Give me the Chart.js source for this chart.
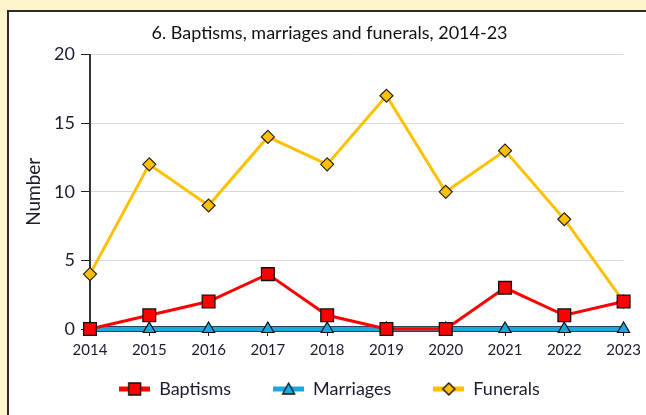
<!DOCTYPE html>
<html>
<head>
<meta charset="utf-8">
<script src="https://cdn.jsdelivr.net/npm/chart.js@4.4.0/dist/chart.umd.min.js"></script>
<style>
  html, body { margin: 0; padding: 0; background: #FFF5CC; overflow: hidden; width: 646px; height: 415px; }
  #panel { position: absolute; left: 7px; top: 10px; width: 700px; height: 450px; background: #fff; border: 2px solid #2a2a2a; }
  #chart { position: absolute; left: 0; top: 0; }
</style>
</head>
<body>
<div id="panel"><canvas id="chart" width="637" height="403"></canvas></div>
<script>
const years = ['2014','2015','2016','2017','2018','2019','2020','2021','2022','2023'];
const baptisms = [0, 1, 2, 4, 1, 0, 0, 3, 1, 2];
const marriages = [0, 0, 0, 0, 0, 0, 0, 0, 0, 0];
const funerals = [4, 12, 9, 14, 12, 17, 10, 13, 8, 2];
const yTicks = [0, 5, 10, 15, 20];

const FONT = 'Lato, "Open Sans", sans-serif';
const TEXT = '#1c1c30';

// legend icon: short line with the marker on it
function legendIcon(color, style, fill) {
  const c = document.createElement('canvas');
  c.width = 31; c.height = 16;
  const g = c.getContext('2d');
  g.strokeStyle = color; g.lineWidth = 5;
  g.beginPath(); g.moveTo(0, 8); g.lineTo(31, 8); g.stroke();
  g.fillStyle = fill; g.strokeStyle = '#111'; g.lineWidth = 1.3;
  g.beginPath();
  if (style === 'rect') { g.rect(9.5, 2, 12, 12); }
  else if (style === 'triangle') { g.moveTo(15.5, 2); g.lineTo(21.5, 13); g.lineTo(9.5, 13); g.closePath(); }
  else { g.moveTo(15.5, 2); g.lineTo(21.5, 8); g.lineTo(15.5, 14); g.lineTo(9.5, 8); g.closePath(); }
  g.fill(); g.stroke();
  return c;
}
const icons = {
  Baptisms: legendIcon('#FF0000', 'rect', '#FF0000'),
  Marriages: legendIcon('#19A8E0', 'triangle', '#19A8E0'),
  Funerals: legendIcon('#FFC000', 'diamond', '#FFC000')
};

// wide legend padding also adds height: pin the box height, then pull its top up
const legendBox = {
  id: 'legendBox',
  afterInit(chart) {
    const lg = chart.legend;
    const fit = lg.fit;
    lg.fit = function () { fit.call(this); this.height = 54; };
  },
  afterLayout(chart) {
    const lg = chart.legend;
    lg.top -= 23;
    lg.height = lg.bottom - lg.top;
  }
};

new Chart(document.getElementById('chart'), {
  type: 'line',
  data: {
    labels: years,
    datasets: [
      { label: 'Baptisms', data: baptisms, borderColor: '#FF0000', borderWidth: 3,
        pointStyle: 'rect', pointRadius: 9, pointBackgroundColor: '#FF0000',
        pointBorderColor: '#111', pointBorderWidth: 1.3, tension: 0, order: 1, clip: false },
      { label: 'Marriages', data: marriages, borderColor: '#19A8E0', borderWidth: 4,
        pointStyle: 'triangle', pointRadius: 7, pointBackgroundColor: '#19A8E0',
        pointBorderColor: '#111', pointBorderWidth: 1.2, tension: 0, order: 2, clip: false },
      // dark edge under the marriages line
      { label: 'edge', data: marriages, borderColor: '#27435c', borderWidth: 6,
        pointRadius: 0, tension: 0, order: 3, clip: false },
      { label: 'Funerals', data: funerals, borderColor: '#FFC000', borderWidth: 3,
        pointStyle: 'rectRot', pointRadius: 6.5, pointBackgroundColor: '#FFC000',
        pointBorderColor: '#222', pointBorderWidth: 1.2, tension: 0, order: 4, clip: false }
    ]
  },
  plugins: [legendBox],
  options: {
    responsive: false,
    animation: false,
    layout: { padding: { left: 26, right: 22, top: 0, bottom: 0 } },
    scales: {
      x: {
        offset: false,
        z: 1,
        grid: { display: true, drawOnChartArea: false, drawTicks: true, tickLength: 7, tickColor: '#222', tickWidth: 1 },
        border: { display: false },
        ticks: { color: TEXT, font: { family: FONT, size: 15 }, padding: 5, maxRotation: 0, autoSkip: false },
        afterFit: s => { s.height = 32; }
      },
      y: {
        min: 0, max: 20,
        afterBuildTicks: s => { s.ticks = yTicks.map(v => ({ value: v })); },
        grid: { color: '#d9d9d9', lineWidth: 1, tickColor: '#222', tickLength: 9, drawTicks: true },
        border: { display: true, color: '#333', width: 2 },
        ticks: { color: TEXT, font: { family: FONT, size: 18 }, padding: 6 },
        title: { display: true, text: 'Number', color: TEXT, font: { family: FONT, size: 19 }, padding: { top: -13, bottom: 0 } },
        afterFit: s => { s.width = 55; }
      }
    },
    plugins: {
      title: {
        display: true,
        text: '6. Baptisms, marriages and funerals, 2014-23',
        color: '#111',
        font: { family: FONT, size: 18, weight: 'normal' },
        padding: { top: 10, bottom: 11 }
      },
      legend: {
        position: 'bottom',
        labels: {
          color: TEXT,
          font: { family: FONT, size: 18 },
          usePointStyle: true,
          pointStyleWidth: 31,
          padding: 42,
          filter: l => l.text !== 'edge',
          generateLabels: chart => Chart.defaults.plugins.legend.labels.generateLabels(chart)
            .map(l => Object.assign(l, { pointStyle: icons[l.text] }))
        }
      },
      tooltip: { enabled: false }
    }
  }
});
</script>
</body>
</html>
